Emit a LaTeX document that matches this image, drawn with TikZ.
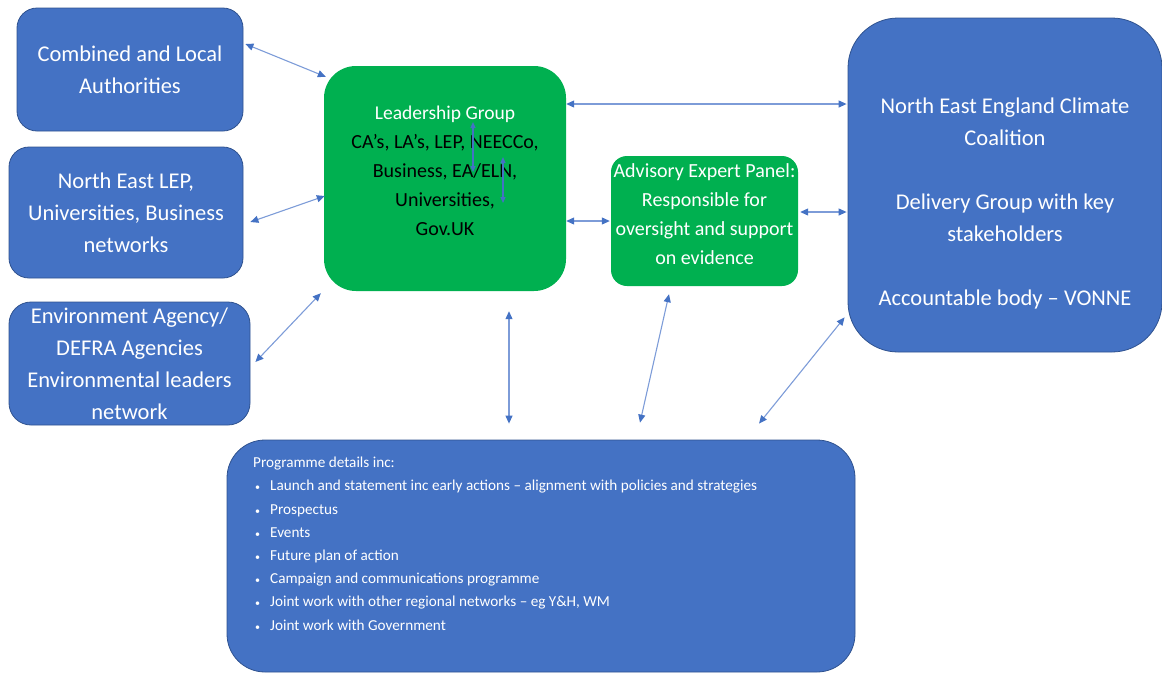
\documentclass[tikz,border=0pt]{standalone}
\usepackage{fontspec}
\setmainfont{Carlito}
\usetikzlibrary{arrows.meta,calc}
\definecolor{boxblue}{RGB}{68,114,196}
\definecolor{boxedge}{RGB}{47,82,143}
\definecolor{boxgreen}{RGB}{0,176,80}
\definecolor{linkblue}{RGB}{125,156,216}
\definecolor{tipblue}{RGB}{68,114,196}
\newcommand{\pbul}{\makebox[17pt][l]{\hspace{2pt}{\fontsize{10}{10}\selectfont •}}}
\tikzset{
  bluebox/.style={rectangle, fill=boxblue, draw=boxedge, line width=0.8pt, text=white, align=center, inner sep=0pt},
  greenbox/.style={rectangle, fill=boxgreen, draw=none, align=center, inner sep=0pt},
  bigtext/.style={font=\fontsize{22.5}{32}\selectfont},
  midtext/.style={font=\fontsize{20}{29}\selectfont},
  link/.style={draw=linkblue, line width=1.1pt, {Triangle[length=8pt,width=7pt,color=tipblue]}-{Triangle[length=8pt,width=7pt,color=tipblue]}},
  smalllink/.style={draw=tipblue, line width=1.2pt, {Triangle[length=6pt,width=5pt]}-{Triangle[length=6pt,width=5pt]}}
}
\begin{document}
\begin{tikzpicture}[x=1pt,y=-1pt]
\useasboundingbox (0,0) rectangle (1162,673);
% boxes
\node[bluebox, bigtext, rounded corners=20pt, minimum width=226pt, minimum height=123pt] (A) at (130,69.5) {Combined and Local\\Authorities};
\node[bluebox, bigtext, rounded corners=20pt, minimum width=234pt, minimum height=131pt] (B) at (126,212.5) {North East LEP,\\Universities, Business\\networks};
\node[bluebox, bigtext, rounded corners=22pt, minimum width=241pt, minimum height=123pt] (C) at (129.5,363.5) {Environment Agency/\\DEFRA Agencies\\Environmental leaders\\network};
\node[greenbox, rounded corners=32pt, minimum width=242pt, minimum height=225pt] (L) at (445,178.5) {};
\node[align=center, midtext, inner sep=0pt] (Ltext) at (445,171) {\textcolor{white}{\fontsize{19.5}{28.5}\selectfont Leadership Group}\\CA’s, LA’s, LEP, NEECCo,\\Business, EA/ELN,\\Universities,\\Gov.UK};
\node[greenbox, rounded corners=16pt, minimum width=187pt, minimum height=130pt] (Adv) at (704.5,221) {};
\node[align=center, midtext, text=white, inner sep=0pt] (Advtext) at (704.5,214) {Advisory Expert Panel:\\Responsible for\\oversight and support\\on evidence};
\node[bluebox, rounded corners=50pt, minimum width=314pt, minimum height=334pt] (N) at (1005,185) {};
\node[align=center, bigtext, text=white, inner sep=0pt] (Ntext) at (1005,203) {North East England Climate\\Coalition\\[32pt]Delivery Group with key\\stakeholders\\[32pt]Accountable body – VONNE};
\node[bluebox, rounded corners=38pt, minimum width=628pt, minimum height=232pt] (P) at (541,556) {};
\node[anchor=north west, align=left, text=white, inner sep=0pt, font=\fontsize{15.2}{23.2}\selectfont] (Ptext) at (253,457) {Programme details inc:\\
\pbul Launch and statement inc early actions – alignment with policies and strategies\\
\pbul Prospectus\\
\pbul Events\\
\pbul Future plan of action\\
\pbul Campaign and communications programme\\
\pbul Joint work with other regional networks – eg Y\&H, WM\\
\pbul Joint work with Government};
% connectors
\draw[link] ([xshift=2pt,yshift=25.5pt]A.east) -- ([xshift=2pt,yshift=-11pt]L.north west);
\draw[link] ([xshift=7pt,yshift=-9.5pt]B.east) -- ([xshift=1pt,yshift=-17.5pt]L.west);
\draw[link] ([xshift=5pt,yshift=1.5pt]C.east) -- ([xshift=-3pt,yshift=-2pt]L.south west);
\draw[link] ([yshift=74.5pt]L.east) -- ([xshift=-1pt,yshift=81pt]N.west);
\draw[link] ([yshift=-42.5pt]L.east) -- ([xshift=-1pt]Adv.west);
\draw[link] ([xshift=2pt,yshift=9pt]Adv.east) -- ([xshift=-1pt,yshift=-27pt]N.west);
\draw[link] ([xshift=64pt,yshift=-20pt]L.south) -- ([xshift=-32pt,yshift=16pt]P.north);
\draw[link] ([xshift=-35.5pt,yshift=-8pt]Adv.south) -- ([xshift=99pt,yshift=17pt]P.north);
\draw[link] ([xshift=-3pt,yshift=35pt]N.south west) -- ([xshift=218pt,yshift=16pt]P.north);
% small stray arrows inside the leadership box
\coordinate (s1a) at ($(L.center)+(28,-56.5)$);
\coordinate (s1b) at ($(L.center)+(28,-6.5)$);
\coordinate (s2a) at ($(L.center)+(58,-21.5)$);
\coordinate (s2b) at ($(L.center)+(58,24.5)$);
\draw[smalllink] (s1a) -- (s1b);
\draw[smalllink] (s2a) -- (s2b);
\end{tikzpicture}
\end{document}
